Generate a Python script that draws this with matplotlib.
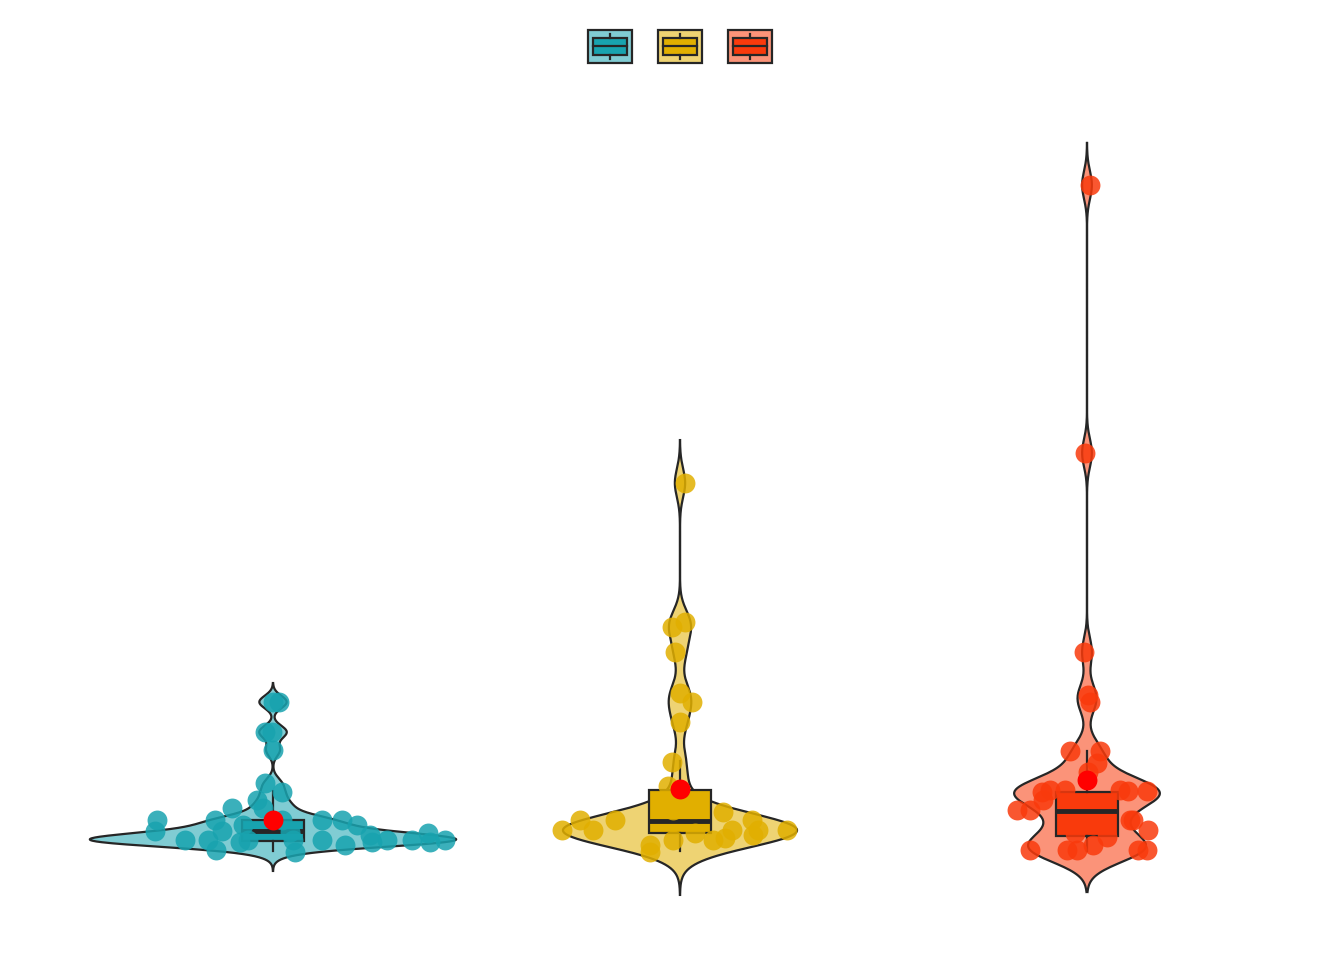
import numpy as np
import matplotlib
matplotlib.use("Agg")
import matplotlib.pyplot as plt
from matplotlib.patches import Rectangle
from matplotlib.lines import Line2D
from matplotlib.legend_handler import HandlerBase

# values (arbitrary units), jitter offsets in group widths,
# and how many observations sit on each drawn point (overplotted ones)
groups = ["A", "B", "C"]
colors = ["#18A3AF", "#E1AF00", "#F93A0C"]

teal_y = [14.9, 14.9, 11.9, 11.9, 10.1, 6.8, 5.9, 5.1, 4.3, 4.3, 3.1, 3.1, 3.1, 3.1,
          3.1, 2.6, 2.6, 2.0, 2.0, 1.9, 1.6, 1.8, 1.1, 1.1, 0.9, 1.1, 1.1, 1.1, 0.6,
          0.9, 1.1, 1.1, 0.9, 1.1, 0.1, -0.1]
teal_dx = [0.0, 0.015, -0.02, -0.002, 0.0, -0.02, 0.022, -0.039, -0.025, -0.101,
           -0.285, -0.143, 0.022, 0.120, 0.170, 0.206, -0.074, -0.290, -0.125, 0.042,
           0.238, 0.381, -0.216, -0.160, -0.081, -0.061, 0.049, 0.120, 0.177, 0.243,
           0.280, 0.342, 0.386, 0.423, -0.140, 0.054]
teal_n = [1, 1, 1, 1, 1, 1, 1, 1, 1, 1, 2, 1, 1, 1,
          1, 1, 1, 2, 2, 1, 1, 2, 2, 2, 2, 2, 2, 2, 1,
          2, 2, 2, 2, 2, 1, 1]

yellow_y = [36.8, 22.4, 22.9, 19.9, 15.8, 14.9, 12.9, 8.9, 6.5, 2.1, 3.1, 2.1, 3.1,
            0.6, -0.1, 1.1, 4.1, 1.8, 1.1, 3.9, 1.3, 2.1, 3.1, 1.6, 2.1, 2.1]
yellow_dx = [0.012, -0.020, 0.012, -0.012, 0.0, 0.029, 0.0, -0.020, -0.029, -0.290,
             -0.246, -0.214, -0.160, -0.074, -0.074, -0.017, -0.017, 0.037, 0.081,
             0.106, 0.111, 0.128, 0.177, 0.179, 0.192, 0.263]
yellow_n = [1, 1, 1, 1, 1, 1, 1, 1, 1, 2, 2, 2, 2,
            1, 1, 1, 1, 2, 1, 1, 2, 2, 1, 2, 2, 2]

red_y = [66.6, 39.8, 19.9, 15.6, 14.9, 10.0, 10.0, 8.8, 7.9, 5.9, 6.1, 6.1, 6.1, 6.0,
         6.0, 5.1, 4.1, 4.1, 3.1, 3.1, 2.1, 0.1, 0.1, 0.1, 0.6, 0.1, 0.1, 1.8, 1.4]
red_dx = [0.007, -0.005, -0.007, 0.002, 0.007, -0.042, 0.032, 0.025, 0.002, -0.111,
          -0.091, -0.054, 0.081, 0.101, 0.147, -0.108, -0.172, -0.140, 0.106, 0.113,
          0.150, -0.140, -0.049, -0.025, 0.015, 0.125, 0.147, -0.029, 0.049]
red_n = [1, 1, 1, 1, 1, 1, 1, 1, 1, 2, 2, 2, 2, 2,
         2, 1, 2, 1, 1, 1, 1, 2, 2, 1, 1, 2, 2, 1, 1]

# box summaries and means as seen in the picture
q1 = [1.0, 1.8, 1.5]
medians = [2.0, 3.0, 4.0]
q3 = [3.1, 6.1, 5.9]
whis_lo = [0.0, 0.0, 0.0]
whis_hi = [6.0, 9.0, 10.0]
means = [3.1, 6.2, 7.1]

bandwidths = [0.63, 1.43, 1.4]
half_widths = [0.45, 0.2875, 0.179]

ys = [teal_y, yellow_y, red_y]
dxs = [teal_dx, yellow_dx, red_dx]
ns = [teal_n, yellow_n, red_n]
edge = "#262626"


def kde(data, bw):
    data = np.asarray(data)
    grid = np.linspace(data.min() - 3 * bw, data.max() + 3 * bw, 512)
    d = np.exp(-0.5 * ((grid[:, None] - data[None, :]) / bw) ** 2).sum(axis=1)
    d /= len(data) * bw * np.sqrt(2 * np.pi)
    return grid, d


fig = plt.figure(figsize=(13.44, 9.6), dpi=100)
ax = fig.add_axes([0, 0, 1, 1])

for i in range(3):
    grid, d = kde(np.repeat(ys[i], ns[i]), bandwidths[i])
    w = d / d.max() * half_widths[i]
    ax.fill_betweenx(grid, i - w, i + w, facecolor=colors[i], alpha=0.55, lw=0, zorder=1)
    ax.plot(i - w, grid, color=edge, lw=1.6, zorder=1.5)
    ax.plot(i + w, grid, color=edge, lw=1.6, zorder=1.5)

stats = []
for i in range(3):
    stats.append(dict(med=medians[i], q1=q1[i], q3=q3[i], whislo=whis_lo[i],
                      whishi=whis_hi[i], fliers=[]))
bp = ax.bxp(stats, positions=range(3), widths=0.15, patch_artist=True,
            showcaps=False, showfliers=False,
            boxprops=dict(edgecolor=edge, lw=1.6),
            whiskerprops=dict(color=edge, lw=1.6),
            medianprops=dict(color=edge, lw=3.5), zorder=2)
for patch, c in zip(bp["boxes"], colors):
    patch.set_facecolor(c)

for i in range(3):
    x = i + np.asarray(dxs[i])
    ax.scatter(x, ys[i], s=205, color=colors[i], alpha=0.85, lw=0, zorder=3)

ax.scatter(range(3), means, s=205, color="#FF0000", lw=0, zorder=4)

ax.set_xlim(-273 / 407, -273 / 407 + 1344 / 407)
ax.set_ylim(-10.9, 85.1)
ax.axis("off")


class BoxKey:
    def __init__(self, color):
        self.color = color


class BoxKeyHandler(HandlerBase):
    def create_artists(self, legend, orig_handle, xdescent, ydescent, width, height,
                       fontsize, trans):
        c = orig_handle.color
        x0, y0 = -xdescent, -ydescent
        bg = Rectangle((x0, y0), width, height, facecolor=c, alpha=0.55, lw=0,
                       transform=trans)
        frame = Rectangle((x0, y0), width, height, facecolor="none", edgecolor=edge,
                          lw=1.6, transform=trans)
        box = Rectangle((x0 + 0.125 * width, y0 + 0.25 * height), 0.75 * width,
                        0.5 * height, facecolor=c, edgecolor=edge, lw=1.6, transform=trans)
        xm = x0 + width / 2
        w1 = Line2D([xm, xm], [y0 + 0.1 * height, y0 + 0.25 * height], color=edge,
                    lw=1.6, transform=trans)
        w2 = Line2D([xm, xm], [y0 + 0.75 * height, y0 + 0.9 * height], color=edge,
                    lw=1.6, transform=trans)
        med = Line2D([x0 + 0.125 * width, x0 + 0.875 * width], [y0 + 0.5 * height] * 2,
                     color=edge, lw=1.6, transform=trans)
        return [bg, box, w1, w2, med, frame]


handles = [BoxKey(c) for c in colors]
fig.legend(handles, ["", "", ""], handler_map={BoxKey: BoxKeyHandler()},
           loc="center", bbox_to_anchor=(680 / 1344, 1 - 46.5 / 960), ncol=3,
           frameon=False, fontsize=10, handlelength=3.17, handleheight=3.17,
           handletextpad=0, columnspacing=1.87, borderpad=0, borderaxespad=0)

fig.savefig("out.png", dpi=100, facecolor="white")
